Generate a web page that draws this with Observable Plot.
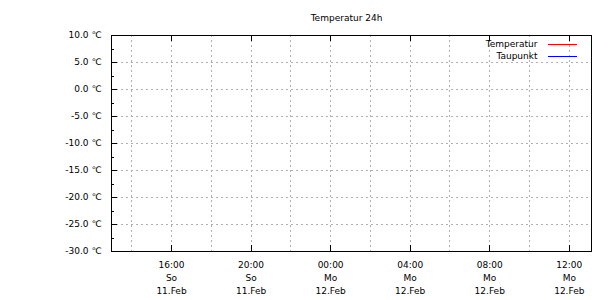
<!DOCTYPE html>
<html>
<head>
<meta charset="utf-8">
<script src="https://cdn.jsdelivr.net/npm/d3@7"></script>
<script src="https://cdn.jsdelivr.net/npm/@observablehq/plot@0.6"></script>
<style>
  html, body { margin: 0; padding: 0; background: #fff; }
  #chart { width: 610px; height: 300px; }
</style>
</head>
<body>
<div id="chart"></div>
<script>
// ---- data ----
const title = "Temperatur 24h";
const seriesNames = ["Temperatur", "Taupunkt"];
const seriesColors = ["#ff0000", "#0000ff"];
// no measurements are plotted in the reference
const temperaturTimes = [];
const temperaturValues = [];
const taupunktTimes = [];
const taupunktValues = [];

const xDomain = [new Date("2018-02-11T12:59:00Z"), new Date("2018-02-12T13:07:00Z")];
const yDomain = [-30, 10];

const xMajorTicks = ["2018-02-11T16:00Z", "2018-02-11T20:00Z", "2018-02-12T00:00Z",
                     "2018-02-12T04:00Z", "2018-02-12T08:00Z", "2018-02-12T12:00Z"].map(s => new Date(s));
const xTickHours = ["16:00", "20:00", "00:00", "04:00", "08:00", "12:00"];
const xTickDays = ["So", "So", "Mo", "Mo", "Mo", "Mo"];
const xTickDates = ["11.Feb", "11.Feb", "12.Feb", "12.Feb", "12.Feb", "12.Feb"];
const xGridTimes = ["2018-02-11T14:00Z", "2018-02-11T16:00Z", "2018-02-11T18:00Z", "2018-02-11T20:00Z",
                    "2018-02-11T22:00Z", "2018-02-12T00:00Z", "2018-02-12T02:00Z", "2018-02-12T04:00Z",
                    "2018-02-12T06:00Z", "2018-02-12T08:00Z", "2018-02-12T10:00Z", "2018-02-12T12:00Z"].map(s => new Date(s));

const yMajorTicks = [-30, -25, -20, -15, -10, -5, 0, 5, 10];
const yTickLabels = ["-30.0 ℃", "-25.0 ℃", "-20.0 ℃", "-15.0 ℃", "-10.0 ℃", "-5.0 ℃", "0.0 ℃", "5.0 ℃", "10.0 ℃"];
const yMinorTicks = [-27.5, -22.5, -17.5, -12.5, -7.5, -2.5, 2.5, 7.5];
const yGrid = [-25, -20, -15, -10, -5, 0, 5];

// ---- layout ----
const W = 610, H = 300;
const mL = 111, mT = 35, mR = 19, mB = 49;
const innerW = W - mL - mR, innerH = H - mT - mB;
const font = "DejaVu Sans";
const fs = 9;
const crisp = {shapeRendering: "crispEdges"};
const gridStyle = {stroke: "#b0b0b0", strokeWidth: 1, strokeDasharray: "2,3", ...crisp};

const temperatur = temperaturTimes.map((t, i) => ({time: new Date(t), value: temperaturValues[i]}));
const taupunkt = taupunktTimes.map((t, i) => ({time: new Date(t), value: taupunktValues[i]}));
const xLabels = xMajorTicks.map((t, i) => ({t, label: `${xTickHours[i]}\n${xTickDays[i]}\n${xTickDates[i]}`}));
const yLabels = yMajorTicks.map((v, i) => ({v, label: yTickLabels[i]}));

const legendMarks = seriesNames.flatMap((name, i) => [
  Plot.text([name], {text: d => d, frameAnchor: "top-right", dx: -54, dy: 9 + i * 12,
                     lineAnchor: "middle", textAnchor: "end", fontSize: fs, fill: "#000"}),
  Plot.ruleY([yDomain[1]], {dy: 9 + i * 12, insetLeft: 437, insetRight: 14,
                            stroke: seriesColors[i], strokeWidth: 1, ...crisp})
]);

const chart = Plot.plot({
  width: W, height: H,
  marginLeft: mL, marginTop: mT, marginRight: mR, marginBottom: mB,
  style: {fontFamily: font, fontSize: fs + "px", background: "#fff", color: "#000"},
  x: {type: "utc", domain: xDomain, axis: null},
  y: {domain: yDomain, axis: null},
  marks: [
    Plot.ruleX(xGridTimes, {x: d => d, ...gridStyle}),
    Plot.ruleY(yGrid, {y: d => d, ...gridStyle}),
    Plot.frame({stroke: "#000", strokeWidth: 1, ...crisp}),
    // x major ticks (bottom and top, inward)
    Plot.tickX(xMajorTicks, {x: d => d, insetTop: innerH - 6, stroke: "#000", ...crisp}),
    Plot.tickX(xMajorTicks, {x: d => d, insetBottom: innerH - 6, stroke: "#000", ...crisp}),
    // y ticks (left, inward)
    Plot.tickY(yMajorTicks, {y: d => d, insetRight: innerW - 6, stroke: "#000", ...crisp}),
    Plot.tickY(yMinorTicks, {y: d => d, insetRight: innerW - 3, stroke: "#000", ...crisp}),
    // labels
    Plot.text(yLabels, {y: "v", text: "label", frameAnchor: "left", dx: -10,
                        textAnchor: "end", fontSize: fs, fill: "#000"}),
    Plot.text(xLabels, {x: "t", text: "label", frameAnchor: "bottom", dy: 7,
                        lineAnchor: "top", lineHeight: 1.45, fontSize: fs, fill: "#000"}),
    Plot.text([title], {text: d => d, frameAnchor: "top", dx: -5, dy: -17,
                        lineAnchor: "middle", fontSize: fs, fill: "#000"}),
    // series
    Plot.lineY(temperatur, {x: "time", y: "value", stroke: seriesColors[0]}),
    Plot.lineY(taupunkt, {x: "time", y: "value", stroke: seriesColors[1]}),
    ...legendMarks
  ]
});
document.getElementById("chart").appendChild(chart);
</script>
</body>
</html>
